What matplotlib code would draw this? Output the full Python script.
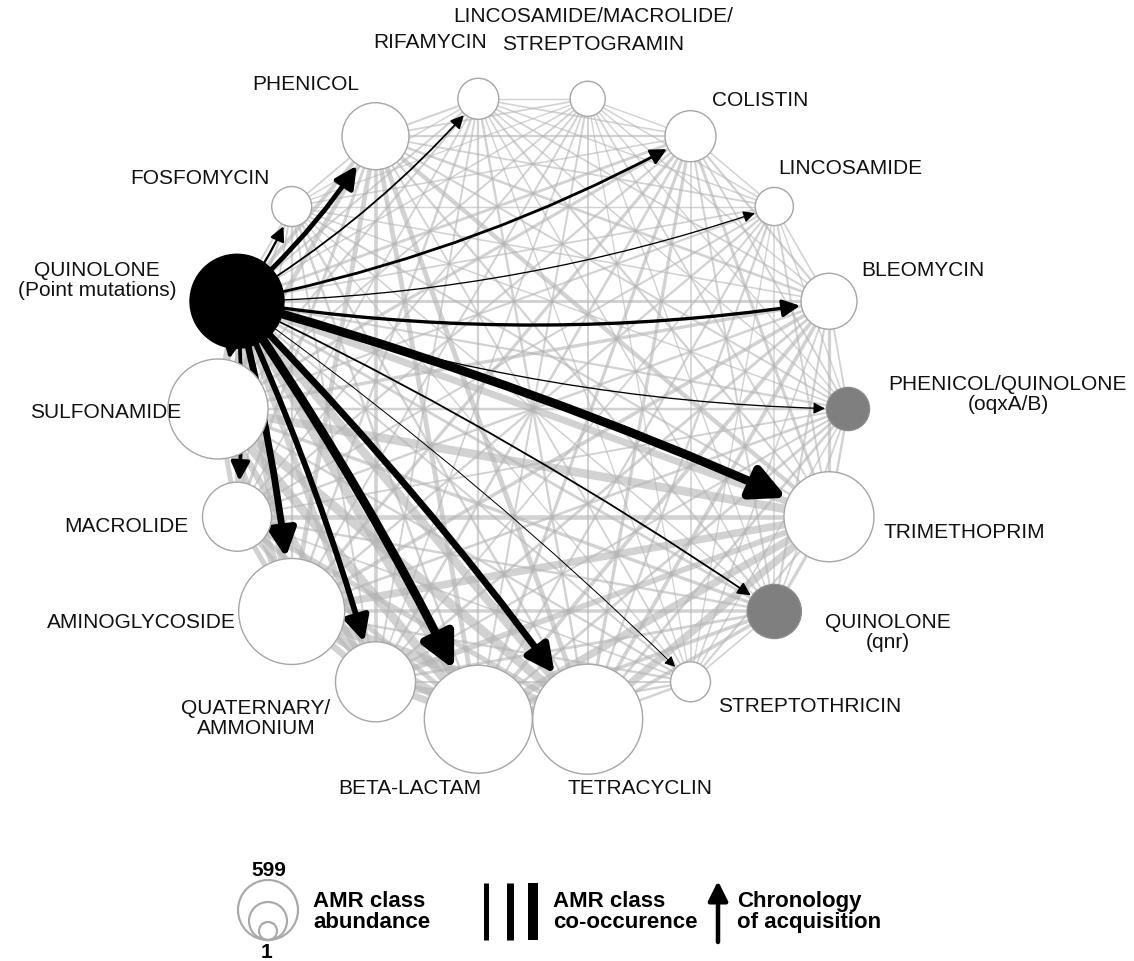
import numpy as np
import matplotlib
matplotlib.use("Agg")
import matplotlib.pyplot as plt
from matplotlib.patches import Circle, FancyArrowPatch, ArrowStyle

plt.rcParams['font.family'] = ['Liberation Sans', 'DejaVu Sans']

# AMR classes, clockwise from quinolone point mutations
classes = ["QUINOLONE\n(Point mutations)", "FOSFOMYCIN", "PHENICOL", "RIFAMYCIN",
           "LINCOSAMIDE/MACROLIDE/\nSTREPTOGRAMIN", "COLISTIN", "LINCOSAMIDE", "BLEOMYCIN",
           "PHENICOL/QUINOLONE\n(oqxA/B)", "TRIMETHOPRIM", "QUINOLONE\n(qnr)", "STREPTOTHRICIN",
           "TETRACYCLIN", "BETA-LACTAM", "QUATERNARY/\nAMMONIUM", "AMINOGLYCOSIDE",
           "MACROLIDE", "SULFONAMIDE"]
abundance = [437, 79, 222, 83, 61, 129, 72, 155, 92, 401, 145, 79, 599, 577, 317, 556, 236, 495]
node_kind = ["point", "gene", "gene", "gene", "gene", "gene", "gene", "gene", "dual",
             "gene", "dual", "gene", "gene", "gene", "gene", "gene", "gene", "gene"]

# co-occurrence counts, upper triangle (row i -> classes i+1 ..)
cooccur = [
    [40, 150, 50, 30, 90, 40, 100, 60, 300, 90, 50, 380, 400, 230, 380, 160, 350],
    [40, 20, 15, 30, 20, 30, 25, 60, 30, 20, 70, 70, 45, 70, 35, 65],
    [50, 35, 60, 40, 80, 50, 170, 60, 40, 200, 190, 130, 190, 100, 180],
    [20, 30, 25, 40, 25, 60, 30, 20, 70, 65, 45, 70, 40, 60],
    [20, 25, 25, 20, 40, 20, 15, 50, 50, 35, 50, 45, 45],
    [25, 60, 40, 100, 50, 30, 115, 110, 80, 110, 60, 105],
    [30, 20, 50, 25, 20, 65, 60, 40, 65, 50, 55],
    [40, 110, 60, 35, 140, 145, 90, 130, 70, 120],
    [70, 40, 25, 85, 85, 55, 80, 45, 75],
    [110, 60, 340, 330, 240, 330, 180, 380],
    [35, 130, 135, 90, 125, 70, 115],
    [70, 65, 50, 70, 35, 65],
    [460, 290, 460, 200, 420],
    [300, 450, 200, 410],
    [280, 150, 270],
    [210, 430],
    [200],
]

# chronology of acquisition: quinolone point mutations first, then these classes
acq_target = [1, 2, 3, 5, 6, 7, 8, 9, 10, 11, 12, 13, 14, 15, 16, 17]
acq_count = [75, 200, 50, 100, 25, 125, 25, 400, 50, 10, 300, 400, 250, 300, 150, 150]

legend_sizes = [599, 1]

# ---- layout (pixel space) ----
W, H = 1134, 961
cx, cy, R = 533, 409, 315
n = len(classes)
ang = np.deg2rad(160 - 20 * np.arange(n))
xs = cx + R * np.cos(ang)
ys = cy - R * np.sin(ang)
rad = 55 * np.sqrt(np.array(abundance) / max(abundance))

label_xy = [(97, 280), (200, 178), (306, 85), (430, 42), (593, 31), (760, 100),
            (850, 169), (923, 271), (1008, 395), (964, 533), (888, 632), (810, 707),
            (640, 788), (410, 789), (256, 719), (141, 623), (126, 526), (106, 413)]
line_gap = [20] * n
line_gap[4] = 28

PT = 0.72  # points per pixel at dpi 100

fig = plt.figure(figsize=(W / 100, H / 100), dpi=100)
ax = fig.add_axes([0, 0, 1, 1])
ax.set_xlim(0, W)
ax.set_ylim(H, 0)
ax.axis('off')

# grey co-occurrence edges
for i, row in enumerate(cooccur):
    for k, c in enumerate(row):
        j = i + 1 + k
        ax.plot([xs[i], xs[j]], [ys[i], ys[j]], color='#b4b4b4', alpha=0.6,
                lw=(1.0 + 0.02 * c) * PT, solid_capstyle='butt', zorder=1)

# black chronology arrows from quinolone point mutations (bent toward the ring centre)
for t, c in zip(acq_target, acq_count):
    w = 0.8 + 0.02 * c
    bend = 0.08 if t <= 8 else -0.04
    style = ArrowStyle('-|>', head_length=0.9, head_width=0.45)
    arr = FancyArrowPatch((xs[0], ys[0]), (xs[t], ys[t]), arrowstyle=style,
                          mutation_scale=5 + 2.0 * w, connectionstyle=f'arc3,rad={bend}',
                          lw=w * PT, color='black', shrinkA=rad[0] * PT,
                          shrinkB=rad[t] * PT + 1, zorder=2)
    ax.add_patch(arr)

# nodes and labels (one text per line)
colors = {"point": ("black", "black"), "gene": ("white", "#a6a6a6"), "dual": ("#7f7f7f", "#8c8c8c")}
for i in range(n):
    fc, ec = colors[node_kind[i]]
    ax.add_patch(Circle((xs[i], ys[i]), rad[i], facecolor=fc, edgecolor=ec,
                        lw=1.4 * PT, zorder=3))
    lines = classes[i].split("\n")
    y0 = label_xy[i][1] - line_gap[i] * (len(lines) - 1) / 2
    for m, line in enumerate(lines):
        ax.text(label_xy[i][0], y0 + m * line_gap[i], line, ha='center', va='center',
                fontsize=15, color='#111111', zorder=4)

# ---- legend ----
lg_r = [30, 19, 9]
for r in lg_r:
    ax.add_patch(Circle((268, 940 - r), r, facecolor='none', edgecolor='#aaaaaa', lw=2.2 * PT))
ax.text(269, 870, str(legend_sizes[0]), ha='center', va='center', fontsize=15, fontweight='bold')
ax.text(267, 953, str(legend_sizes[1]), ha='center', va='center', fontsize=15, fontweight='bold')
ax.text(313, 912, "AMR class\nabundance", ha='left', va='center', fontsize=16,
        fontweight='bold', linespacing=0.95)

for bx, bw in zip([485.5, 509.5, 533], [5, 7, 10]):
    ax.plot([bx, bx], [883, 940], color='black', lw=bw * PT, solid_capstyle='butt')
ax.text(553, 912, "AMR class\nco-occurence", ha='left', va='center', fontsize=16,
        fontweight='bold', linespacing=0.95)

ax.add_patch(FancyArrowPatch((718, 942), (718, 881), arrowstyle=ArrowStyle('-|>', head_length=0.9, head_width=0.45),
                             mutation_scale=13, lw=4.5 * PT, color='black', shrinkA=0, shrinkB=0))
ax.text(737, 912, "Chronology\nof acquisition", ha='left', va='center', fontsize=16,
        fontweight='bold', linespacing=0.95)

fig.savefig("out.png", dpi=100)
